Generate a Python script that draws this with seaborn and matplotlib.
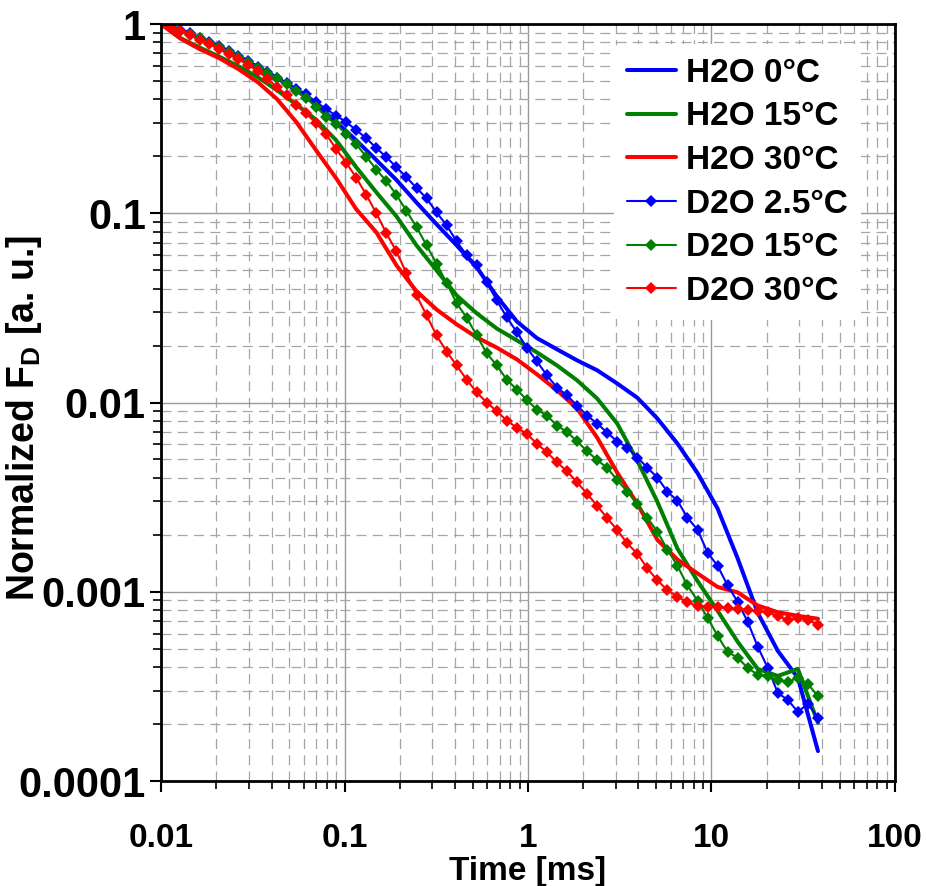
import pandas as pd
import seaborn as sns
import matplotlib.pyplot as plt
from matplotlib.ticker import FixedLocator, FixedFormatter, LogLocator, NullFormatter

# Time grids [ms]
t_d2o = [0.01, 0.01129, 0.01275, 0.01439, 0.01625, 0.01835, 0.02071, 0.02338, 0.0264, 0.0298,
         0.03365, 0.03799, 0.04289, 0.04842, 0.05467, 0.06172, 0.07002, 0.07943, 0.09007, 0.1022,
         0.1159, 0.1315, 0.1491, 0.1691, 0.1918, 0.2176, 0.2468, 0.2799, 0.3174, 0.36,
         0.4083, 0.4632, 0.5254, 0.5959, 0.6759, 0.7666, 0.8695, 0.9861, 1.118, 1.269,
         1.439, 1.632, 1.851, 2.1, 2.381, 2.701, 3.063, 3.475, 3.941, 4.47,
         5.07, 5.75, 6.522, 7.398, 8.391, 9.517, 10.8, 12.24, 13.89, 15.75,
         17.87, 20.26, 22.98, 26.07, 29.57, 33.54, 38.04]
t_h2o = [0.01, 0.01275, 0.01625, 0.02071, 0.0264, 0.03365, 0.04289, 0.05467, 0.07002, 0.09007,
         0.1159, 0.1491, 0.1918, 0.2468, 0.3174, 0.4083, 0.5254, 0.6759, 0.8695, 1.118,
         1.439, 1.851, 2.381, 3.063, 3.941, 5.07, 6.522, 8.391, 10.8, 13.89,
         17.87, 22.98, 29.57, 38.04]

# H2O curves (normalized FD)
h2o_0 = [1.0, 0.930, 0.843, 0.760, 0.677, 0.592, 0.518, 0.447, 0.377, 0.303,
         0.243, 0.191, 0.150, 0.114, 0.0875, 0.0677, 0.0518, 0.0364, 0.0268, 0.0219,
         0.0191, 0.0167, 0.0148, 0.0126, 0.0106, 0.00823, 0.00607, 0.00424, 0.00275, 0.00150,
         0.000774, 0.000487, 0.000351, 0.000144]
h2o_15 = [1.0, 0.843, 0.751, 0.673, 0.599, 0.524, 0.447, 0.375, 0.312, 0.243,
          0.175, 0.129, 0.0964, 0.0677, 0.0499, 0.0368, 0.0296, 0.0246, 0.0213, 0.0184,
          0.0157, 0.0131, 0.0105, 0.00774, 0.00493, 0.00299, 0.00169, 0.00114, 0.000793, 0.000544,
          0.000391, 0.000359, 0.000391, 0.000203]
h2o_30 = [1.0, 0.838, 0.737, 0.661, 0.578, 0.493, 0.401, 0.303, 0.215, 0.153,
          0.105, 0.0793, 0.0531, 0.0387, 0.0310, 0.0259, 0.0221, 0.0195, 0.0169, 0.0141,
          0.0116, 0.00929, 0.00653, 0.00426, 0.00292, 0.00188, 0.00148, 0.00125, 0.00106, 0.000992,
          0.000846, 0.000779, 0.000746, 0.000720]

# D2O curves (normalized FD)
d2o_2 = [1.0, 0.964, 0.930, 0.891, 0.848, 0.808, 0.765, 0.720, 0.677, 0.637,
         0.596, 0.557, 0.521, 0.487, 0.456, 0.426, 0.387, 0.355, 0.328, 0.303,
         0.275, 0.249, 0.221, 0.198, 0.175, 0.155, 0.136, 0.120, 0.101, 0.0864,
         0.0711, 0.0599, 0.0534, 0.0431, 0.0346, 0.0282, 0.0235, 0.0195, 0.0165, 0.0139,
         0.0120, 0.0109, 0.00964, 0.00853, 0.00774, 0.00694, 0.00622, 0.00578, 0.00512, 0.00453,
         0.00401, 0.00338, 0.00303, 0.00246, 0.00213, 0.00161, 0.00137, 0.00108, 0.000885, 0.000694,
         0.000512, 0.000396, 0.000292, 0.000268, 0.000232, 0.000256, 0.000215]
d2o_15 = [1.0, 0.964, 0.924, 0.885, 0.843, 0.798, 0.756, 0.711, 0.669, 0.629,
          0.589, 0.551, 0.516, 0.481, 0.442, 0.405, 0.365, 0.323, 0.295, 0.262,
          0.231, 0.199, 0.170, 0.148, 0.125, 0.103, 0.0846, 0.0677, 0.0542, 0.0428,
          0.0335, 0.0281, 0.0226, 0.0182, 0.0157, 0.0132, 0.0117, 0.0103, 0.00918, 0.00853,
          0.00755, 0.00698, 0.00624, 0.00553, 0.00497, 0.00451, 0.00390, 0.00338, 0.00292, 0.00246,
          0.00208, 0.00167, 0.00137, 0.00108, 0.000896, 0.000729, 0.000585, 0.000481, 0.000448, 0.000396,
          0.000364, 0.000359, 0.000342, 0.000334, 0.000351, 0.000326, 0.000280]
d2o_30 = [1.0, 0.957, 0.920, 0.875, 0.823, 0.784, 0.737, 0.694, 0.653, 0.607,
          0.567, 0.512, 0.464, 0.421, 0.375, 0.337, 0.299, 0.262, 0.218, 0.185,
          0.154, 0.125, 0.100, 0.0784, 0.0629, 0.0481, 0.0368, 0.0289, 0.0226, 0.0186,
          0.0157, 0.0132, 0.0113, 0.0100, 0.00899, 0.00803, 0.00735, 0.00683, 0.00605, 0.00546,
          0.00483, 0.00433, 0.00379, 0.00329, 0.00285, 0.00245, 0.00212, 0.00180, 0.00159, 0.00133,
          0.00115, 0.00102, 0.000941, 0.000878, 0.000843, 0.000833, 0.000833, 0.000820, 0.000810, 0.000800,
          0.000787, 0.000777, 0.000746, 0.000708, 0.000731, 0.000708, 0.000669]

h2o_labels = ["H2O 0°C", "H2O 15°C", "H2O 30°C"]
d2o_labels = ["D2O 2.5°C", "D2O 15°C", "D2O 30°C"]
colors = ["#0000FF", "#008000", "#FF0000"]

x_ticks = [0.01, 0.1, 1, 10, 100]
x_ticklabels = ["0.01", "0.1", "1", "10", "100"]
y_ticks = [0.0001, 0.001, 0.01, 0.1, 1]
y_ticklabels = ["0.0001", "0.001", "0.01", "0.1", "1"]

sns.set_theme(style="white")
plt.rcParams["font.family"] = ["Liberation Sans", "DejaVu Sans"]
plt.rcParams["font.weight"] = "bold"
plt.rcParams["mathtext.fontset"] = "custom"
plt.rcParams["mathtext.rm"] = "Liberation Sans:bold"
plt.rcParams["mathtext.bf"] = "Liberation Sans:bold"
for key in ["text.color", "axes.labelcolor", "xtick.color", "ytick.color"]:
    plt.rcParams[key] = "black"

fig = plt.figure(figsize=(9.26, 8.86), dpi=100)
ax = fig.add_axes([0.1739, 0.1185, 0.7926, 0.8544])

for y, lab, c in zip([h2o_0, h2o_15, h2o_30], h2o_labels, colors):
    df = pd.DataFrame({"t": t_h2o, "F": y})
    sns.lineplot(data=df, x="t", y="F", ax=ax, color=c, linewidth=2.9, label=lab)

for y, lab, c in zip([d2o_2, d2o_15, d2o_30], d2o_labels, colors):
    df = pd.DataFrame({"t": t_d2o, "F": y})
    sns.lineplot(data=df, x="t", y="F", ax=ax, color=c, linewidth=1.5, marker="D",
                 markersize=6.5, markeredgewidth=0, label=lab)

ax.set_xscale("log")
ax.set_yscale("log")
ax.set_xlim(0.01, 100)
ax.set_ylim(0.0001, 1)

ax.xaxis.set_major_locator(FixedLocator(x_ticks))
ax.xaxis.set_major_formatter(FixedFormatter(x_ticklabels))
ax.yaxis.set_major_locator(FixedLocator(y_ticks))
ax.yaxis.set_major_formatter(FixedFormatter(y_ticklabels))
for axis in (ax.xaxis, ax.yaxis):
    axis.set_minor_locator(LogLocator(base=10, subs=range(2, 10), numticks=20))
    axis.set_minor_formatter(NullFormatter())

ax.grid(True, which="major", color="#999999", linestyle="-", linewidth=1.0)
ax.grid(True, which="minor", color="#a6a6a6", linestyle=(0, (8, 5)), linewidth=0.9)
ax.set_axisbelow(True)

for s in ax.spines.values():
    s.set_color("black")
    s.set_linewidth(2.0)

ax.tick_params(axis="both", which="major", direction="out", length=8, width=1.5,
               color="black", bottom=True, left=True)
ax.tick_params(axis="both", which="minor", direction="out", length=6, width=1.2,
               color="black", bottom=True, left=True)
ax.tick_params(axis="x", which="major", labelsize=24, pad=22)
ax.tick_params(axis="y", which="major", labelsize=30, pad=3)

ax.set_xlabel("Time [ms]", fontsize=24, fontweight="bold", labelpad=2)
ax.set_ylabel(r"Normalized F$_{\mathrm{D}}$ [a. u.]", fontsize=27, fontweight="bold")
ax.yaxis.set_label_coords(-0.16, 0.48)

leg = ax.legend(loc="upper left", bbox_to_anchor=(0.617, 0.973), fontsize=24,
                frameon=True, facecolor="white", edgecolor="none", framealpha=1,
                handlelength=1.45, handletextpad=0.3, labelspacing=0.38,
                borderpad=0.4, borderaxespad=0)
for txt in leg.get_texts():
    txt.set_fontweight("bold")

fig.savefig("out.png", dpi=100)
